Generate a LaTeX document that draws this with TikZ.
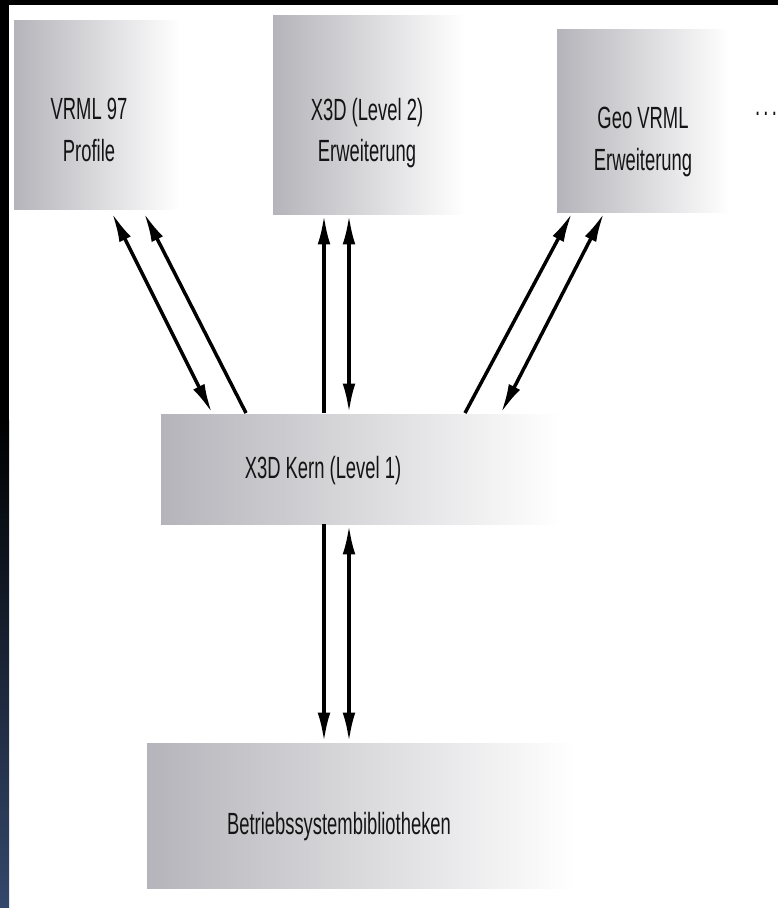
\documentclass[tikz,border=0pt]{standalone}
\usepackage{fontspec}
\setmainfont{Liberation Sans}[FakeStretch=0.6]
\usepackage{tikz}
\usetikzlibrary{arrows.meta,calc}
\definecolor{boxgray}{RGB}{180,180,186}
\definecolor{boxmid}{RGB}{216,216,220}
\definecolor{navy}{RGB}{52,72,108}

\begin{document}
\begin{tikzpicture}[x=0.75pt,y=0.75pt,yscale=-1,xscale=1,
  box/.style={anchor=north west,inner sep=0pt,outer sep=0pt,draw=none,left color=boxgray,middle color=boxmid,right color=white},
  txt/.style={inner sep=0.75pt,align=center,text=black!92,font=\fontsize{23}{31}\selectfont},
  link/.style={line width=2.6pt,-{Latex[length=22pt,width=9.5pt]}},
  both/.style={line width=2.6pt,{Latex[length=22pt,width=9.5pt]}-{Latex[length=22pt,width=9.5pt]}}]
\useasboundingbox (0,0) rectangle (778,908);
\fill[white] (0,0) rectangle (778,908);

%Frame
\fill[black] (0,0) rectangle (778,5);
\fill[black] (0,0) rectangle (9,420);
\shade[top color=black,bottom color=navy] (0,420) rectangle (9,908);

%Boxes
\node[box,minimum width=124.5pt,minimum height=141.75pt] (vrml) at (14,20) {};
\node[box,minimum width=144pt,minimum height=149.25pt] (x3d) at (273,15) {};
\node[box,minimum width=129.75pt,minimum height=137.25pt] (geo) at (557,29) {};
\node[box,minimum width=299.25pt,minimum height=82.5pt] (kern) at (161,414) {};
\node[box,minimum width=321pt,minimum height=108.75pt] (os) at (147,743) {};

% Text Node
\node[txt] (vrmltxt) at (89,130) {VRML 97\\Profile};
% Text Node
\node[txt] (x3dtxt) at (367,133) {X3D (Level 2)\\Erweiterung};
% Text Node
\node[txt] (geotxt) at (643,142) {Geo VRML\\Erweiterung};
% Text Node
\node[txt,anchor=base] (more) at (766,115) {.\hspace{2.5pt}.\hspace{2.5pt}.};
% Text Node
\node[txt,anchor=base] (kerntxt) at (323,478) {X3D Kern (Level 1)};
% Text Node
\node[txt,anchor=base] (ostxt) at (339,834) {Betriebssystembibliotheken};

%Straight Lines
\draw[both] ($(kern.north west)+(51,-1)$) -- ($(vrml.south west)+(98,4)$);
\draw[link] ($(kern.north west)+(85,-1)$) -- ($(vrml.south west)+(130,4)$);
\draw[link] ($(kern.north west)+(163,-1)$) -- ($(x3d.south west)+(51,1)$);
\draw[both] ($(kern.north west)+(188,-1)$) -- ($(x3d.south west)+(76,1)$);
\draw[link] ($(kern.north west)+(304,-1)$) -- ($(geo.south west)+(15,1)$);
\draw[both] ($(kern.north west)+(340,-1)$) -- ($(geo.south west)+(47,1)$);
\draw[link] ($(kern.south west)+(163,0)$) -- ($(os.north west)+(177,-1)$);
\draw[both] ($(kern.south west)+(188,1)$) -- ($(os.north west)+(202,-1)$);

\end{tikzpicture}
\end{document}
